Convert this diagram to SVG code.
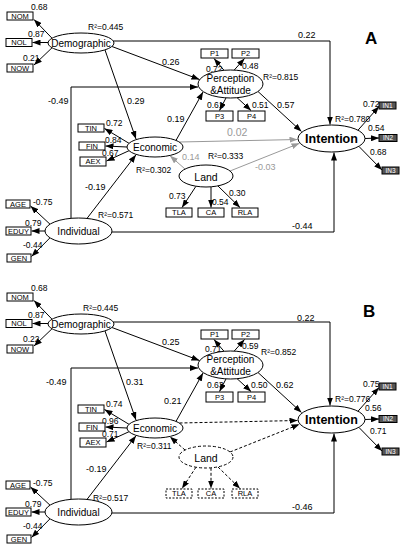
<svg xmlns="http://www.w3.org/2000/svg" width="403" height="550" viewBox="0 0 403 550">
<defs>
<marker id="ah" viewBox="0 0 8 6" refX="8" refY="3" markerWidth="8" markerHeight="6" markerUnits="userSpaceOnUse" orient="auto"><path d="M0,0 L8,3 L0,6 z" fill="#000"/></marker>
<marker id="ahg" viewBox="0 0 8 6" refX="8" refY="3" markerWidth="8" markerHeight="6" markerUnits="userSpaceOnUse" orient="auto"><path d="M0,0 L8,3 L0,6 z" fill="#999"/></marker>
<style>
text { font-family: "Liberation Sans", Arial, sans-serif; fill: #000; }
.ell { fill: #fff; stroke: #000; stroke-width: 1; }
.dell { fill: #fff; stroke: #000; stroke-width: 1; stroke-dasharray: 3 2; }
.box { fill: #fff; stroke: #000; stroke-width: 1; }
.dbox { fill: #fff; stroke: #000; stroke-width: 1; stroke-dasharray: 2 1.5; }
.ibox { fill: #555; stroke: #000; stroke-width: 1; }
.ln { stroke: #000; stroke-width: 1; fill: none; marker-end: url(#ah); }
.ln0 { stroke: #000; stroke-width: 1; fill: none; }
.gl { stroke: #999; stroke-width: 1; fill: none; marker-end: url(#ahg); }
.dl { stroke: #000; stroke-width: 1; fill: none; stroke-dasharray: 3 2; marker-end: url(#ah); }
.nt { font-size: 10px; text-anchor: middle; }
.it { font-size: 12.5px; font-weight: bold; text-anchor: middle; }
.bt { font-size: 7.5px; text-anchor: middle; }
.wt { font-size: 6.5px; text-anchor: middle; fill: #fff; }
.lb { font-size: 8.5px; }
.pc { font-size: 9px; }
.gt { font-size: 9px; fill: #999; }
.big { font-size: 17px; font-weight: bold; }
</style>
</defs>
<rect width="403" height="550" fill="#fff"/>

<g id="panelA">
<text class="big" x="365" y="44">A</text>
<g id="A-connectors">
<path class="ln" d="M113.3,41 H330 V124.5"/>
<path class="ln" d="M112,46.5 L199.5,79.5"/>
<path class="ln" d="M105,50 L136,139"/>
<path class="ln" d="M71,218.3 V87 H198"/>
<path class="ln" d="M176,140.4 L203,92"/>
<path class="ln" d="M258,91.5 L301.5,131.5"/>
<path class="ln" d="M112,232 H334 V152.5"/>
<path class="ln" d="M87,218.4 L136,154.8"/>
<path class="gl" d="M179.5,142 L297.5,139.5"/>
<path class="gl" d="M185,169 L170,155.8"/>
<path class="gl" d="M230,171 L299.5,143.3"/>
<path class="ln" d="M52,38.2 L34,19.5"/>
<path class="ln" d="M48,42.5 L32.5,42.5"/>
<path class="ln" d="M52,47.8 L34,65"/>
<path class="ln" d="M224,70.3 L214,58.5"/>
<path class="ln" d="M234,70.3 L244.5,58.5"/>
<path class="ln" d="M226,97.9 L219.5,110.5"/>
<path class="ln" d="M237,97.6 L251,110.5"/>
<path class="ln" d="M358,130.2 L379,106.5"/>
<path class="ln" d="M365,138.5 L379,138"/>
<path class="ln" d="M359,146.5 L382,170"/>
<path class="ln" d="M129,143.3 L104.5,128.5"/>
<path class="ln" d="M127,147 L105.5,146"/>
<path class="ln" d="M129,150.7 L106.5,161"/>
<path class="ln" d="M196,186.2 L182,207.5"/>
<path class="ln" d="M211,186.8 L211,207.5"/>
<path class="ln" d="M218,186 L240,207.5"/>
<path class="ln" d="M50,224.2 L30.5,206"/>
<path class="ln" d="M45,231 L31.5,231"/>
<path class="ln" d="M50,237.8 L31.5,256.5"/>
</g>
<g id="A-labels">
<text class="lb" x="31" y="10">0.68</text>
<text class="lb" x="28" y="37">0.87</text>
<text class="lb" x="23" y="61">0.21</text>
<text class="pc" x="162" y="65">0.26</text>
<text class="pc" x="127" y="104">0.29</text>
<text class="pc" x="48" y="104">-0.49</text>
<text class="pc" x="298" y="38">0.22</text>
<text class="lb" x="206" y="72">0.72</text>
<text class="lb" x="242" y="69">0.48</text>
<text class="lb" x="207" y="108">0.61</text>
<text class="lb" x="252" y="108">0.51</text>
<text class="pc" x="277" y="108">0.57</text>
<text class="lb" x="363" y="107">0.72</text>
<text class="lb" x="368" y="131">0.54</text>
<text class="lb" x="370" y="155">0.68</text>
<text class="lb" x="106" y="126">0.72</text>
<text class="lb" x="105" y="143">0.84</text>
<text class="lb" x="102" y="156">0.67</text>
<text class="pc" x="167" y="122">0.19</text>
<text class="gt" x="227" y="136" style="font-size:10.5px">0.02</text>
<text class="gt" x="182" y="160">0.14</text>
<text class="gt" x="255" y="170">-0.03</text>
<text class="lb" x="169" y="199">0.73</text>
<text class="lb" x="212" y="205">0.54</text>
<text class="lb" x="229" y="196">0.30</text>
<text class="pc" x="85" y="190">-0.19</text>
<text class="lb" x="33" y="205">-0.75</text>
<text class="lb" x="25" y="226">0.79</text>
<text class="lb" x="23" y="248">-0.44</text>
<text class="pc" x="292" y="229">-0.44</text>
</g>
<g id="A-demographic"><ellipse class="ell" cx="81" cy="43" rx="33" ry="10"/><text class="nt" x="81" y="46.5">Demographic</text><text class="lb" x="88" y="30">R²=0.445</text></g>
<g id="A-NOM"><rect class="box" x="7" y="12" width="26" height="8"/><text class="bt" x="20" y="18.8">NOM</text></g>
<g id="A-NOL"><rect class="box" x="6" y="38.5" width="26" height="8"/><text class="bt" x="19" y="45.3">NOL</text></g>
<g id="A-NOW"><rect class="box" x="7" y="64" width="26" height="8"/><text class="bt" x="20" y="70.8">NOW</text></g>
<g id="A-perception"><ellipse class="ell" cx="230.5" cy="84" rx="32.5" ry="14"/><text class="nt" x="230.5" y="82">Perception</text><text class="nt" x="230.5" y="94">&amp;Attitude</text><text class="lb" x="263" y="80">R²=0.815</text></g>
<g id="A-P1"><rect class="box" x="201" y="49" width="27" height="9"/><text class="bt" x="214.5" y="56.3">P1</text></g>
<g id="A-P2"><rect class="box" x="232" y="49" width="27" height="9"/><text class="bt" x="245.5" y="56.3">P2</text></g>
<g id="A-P3"><rect class="box" x="206" y="111" width="27" height="10"/><text class="bt" x="219.5" y="119">P3</text></g>
<g id="A-P4"><rect class="box" x="238" y="111" width="27" height="10"/><text class="bt" x="251.5" y="119">P4</text></g>
<g id="A-intention"><ellipse class="ell" cx="331.5" cy="138.5" rx="33.5" ry="13.5"/><text class="it" x="331.5" y="143">Intention</text><text class="lb" x="335" y="122">R²=0.780</text></g>
<g id="A-IN1"><rect class="ibox" x="379" y="102" width="17" height="7"/><text class="wt" x="387.5" y="107.8">IN1</text></g>
<g id="A-IN2"><rect class="ibox" x="379" y="134.5" width="18" height="7"/><text class="wt" x="388" y="140.3">IN2</text></g>
<g id="A-IN3"><rect class="ibox" x="382" y="167" width="17" height="7"/><text class="wt" x="390.5" y="172.8">IN3</text></g>
<g id="A-economic"><ellipse class="ell" cx="155" cy="147" rx="28" ry="10"/><text class="nt" x="155" y="150.5">Economic</text><text class="lb" x="136" y="173">R²=0.302</text></g>
<g id="A-TIN"><rect class="box" x="78" y="124" width="26" height="8"/><text class="bt" x="91" y="130.8">TIN</text></g>
<g id="A-FIN"><rect class="box" x="79" y="142" width="26" height="8"/><text class="bt" x="92" y="148.8">FIN</text></g>
<g id="A-AEX"><rect class="box" x="80" y="157" width="26" height="9"/><text class="bt" x="93" y="164.3">AEX</text></g>
<g id="A-land"><ellipse class="ell" cx="206" cy="176" rx="27" ry="11"/><text class="nt" x="206" y="180.5" style="font-size:10.5px">Land</text><text class="lb" x="208" y="159">R²=0.333</text></g>
<g id="A-TLA"><rect class="box" x="166" y="208" width="26" height="9"/><text class="bt" x="179" y="215.3">TLA</text></g>
<g id="A-CA"><rect class="box" x="198" y="208" width="26" height="9"/><text class="bt" x="211" y="215.3">CA</text></g>
<g id="A-RLA"><rect class="box" x="232" y="208" width="26" height="9"/><text class="bt" x="245" y="215.3">RLA</text></g>
<g id="A-individual"><ellipse class="ell" cx="78.5" cy="231" rx="33.5" ry="13"/><text class="nt" x="78.5" y="234.5">Individual</text><text class="lb" x="98" y="218">R²=0.571</text></g>
<g id="A-AGE"><rect class="box" x="6" y="200" width="24" height="8"/><text class="bt" x="18" y="206.8">AGE</text></g>
<g id="A-EDUY"><rect class="box" x="6" y="227" width="25" height="8"/><text class="bt" x="18.5" y="233.8">EDUY</text></g>
<g id="A-GEN"><rect class="box" x="7" y="254" width="24" height="8"/><text class="bt" x="19" y="260.8">GEN</text></g>
</g>

<g id="panelB" transform="translate(0,281)">
<text class="big" x="363" y="36">B</text>
<g id="B-connectors">
<path class="ln" d="M113.3,41 H330 V124.5"/>
<path class="ln" d="M112,46.5 L199.5,79.5"/>
<path class="ln" d="M105,50 L136,139"/>
<path class="ln" d="M71,218.3 V87 H198"/>
<path class="ln" d="M176,140.4 L203,92"/>
<path class="ln" d="M258,91.5 L301.5,131.5"/>
<path class="ln" d="M112,232 H334 V152.5"/>
<path class="ln" d="M87,218.4 L136,154.8"/>
<path class="dl" d="M179.5,142 L297.5,139.5"/>
<path class="dl" d="M185,169 L170,155.8"/>
<path class="dl" d="M230,171 L299.5,143.3"/>
<path class="ln" d="M52,38.2 L34,19.5"/>
<path class="ln" d="M48,42.5 L32.5,42.5"/>
<path class="ln" d="M52,47.8 L34,65"/>
<path class="ln" d="M224,70.3 L214,58.5"/>
<path class="ln" d="M234,70.3 L244.5,58.5"/>
<path class="ln" d="M226,97.9 L219.5,110.5"/>
<path class="ln" d="M237,97.6 L251,110.5"/>
<path class="ln" d="M358,130.2 L379,106.5"/>
<path class="ln" d="M365,138.5 L379,138"/>
<path class="ln" d="M359,146.5 L382,170"/>
<path class="ln" d="M129,143.3 L104.5,128.5"/>
<path class="ln" d="M127,147 L105.5,146"/>
<path class="ln" d="M129,150.7 L106.5,161"/>
<path class="dl" d="M196,186.2 L182,207.5"/>
<path class="dl" d="M211,186.8 L211,207.5"/>
<path class="dl" d="M218,186 L240,207.5"/>
<path class="ln" d="M50,224.2 L30.5,206"/>
<path class="ln" d="M45,231 L31.5,231"/>
<path class="ln" d="M50,237.8 L31.5,256.5"/>
</g>
<g id="B-labels">
<text class="lb" x="31" y="10">0.68</text>
<text class="lb" x="28" y="37">0.87</text>
<text class="lb" x="23" y="61">0.22</text>
<text class="pc" x="162" y="64">0.25</text>
<text class="pc" x="126" y="104">0.31</text>
<text class="pc" x="46" y="104">-0.49</text>
<text class="pc" x="297" y="40">0.22</text>
<text class="lb" x="205" y="71">0.71</text>
<text class="lb" x="242" y="68">0.59</text>
<text class="lb" x="207" y="107">0.63</text>
<text class="lb" x="251" y="107">0.50</text>
<text class="pc" x="276" y="107">0.62</text>
<text class="lb" x="363" y="106">0.75</text>
<text class="lb" x="365" y="130">0.56</text>
<text class="lb" x="370" y="153">0.71</text>
<text class="lb" x="106" y="126">0.74</text>
<text class="lb" x="102" y="143">0.96</text>
<text class="lb" x="102" y="156">0.71</text>
<text class="pc" x="164" y="123">0.21</text>
<text class="pc" x="86" y="191">-0.19</text>
<text class="lb" x="33" y="205">-0.75</text>
<text class="lb" x="25" y="226">0.79</text>
<text class="lb" x="23" y="248">-0.44</text>
<text class="pc" x="292" y="229">-0.46</text>
</g>
<g id="B-demographic"><ellipse class="ell" cx="81" cy="43" rx="33" ry="10"/><text class="nt" x="81" y="46.5">Demographic</text><text class="lb" x="83" y="30">R²=0.445</text></g>
<g id="B-NOM"><rect class="box" x="7" y="12" width="26" height="8"/><text class="bt" x="20" y="18.8">NOM</text></g>
<g id="B-NOL"><rect class="box" x="6" y="38.5" width="26" height="8"/><text class="bt" x="19" y="45.3">NOL</text></g>
<g id="B-NOW"><rect class="box" x="7" y="64" width="26" height="8"/><text class="bt" x="20" y="70.8">NOW</text></g>
<g id="B-perception"><ellipse class="ell" cx="230.5" cy="84" rx="32.5" ry="14"/><text class="nt" x="230.5" y="82">Perception</text><text class="nt" x="230.5" y="94">&amp;Attitude</text><text class="lb" x="261" y="74">R²=0.852</text></g>
<g id="B-P1"><rect class="box" x="201" y="49" width="27" height="9"/><text class="bt" x="214.5" y="56.3">P1</text></g>
<g id="B-P2"><rect class="box" x="232" y="49" width="27" height="9"/><text class="bt" x="245.5" y="56.3">P2</text></g>
<g id="B-P3"><rect class="box" x="206" y="111" width="27" height="10"/><text class="bt" x="219.5" y="119">P3</text></g>
<g id="B-P4"><rect class="box" x="238" y="111" width="27" height="10"/><text class="bt" x="251.5" y="119">P4</text></g>
<g id="B-intention"><ellipse class="ell" cx="331.5" cy="138.5" rx="33.5" ry="13.5"/><text class="it" x="331.5" y="143">Intention</text><text class="lb" x="335" y="121">R²=0.776</text></g>
<g id="B-IN1"><rect class="ibox" x="379" y="102" width="17" height="7"/><text class="wt" x="387.5" y="107.8">IN1</text></g>
<g id="B-IN2"><rect class="ibox" x="379" y="134.5" width="18" height="7"/><text class="wt" x="388" y="140.3">IN2</text></g>
<g id="B-IN3"><rect class="ibox" x="382" y="167" width="17" height="7"/><text class="wt" x="390.5" y="172.8">IN3</text></g>
<g id="B-economic"><ellipse class="ell" cx="155" cy="147" rx="28" ry="10"/><text class="nt" x="155" y="150.5">Economic</text><text class="lb" x="137" y="168">R²=0.311</text></g>
<g id="B-TIN"><rect class="box" x="78" y="124" width="26" height="8"/><text class="bt" x="91" y="130.8">TIN</text></g>
<g id="B-FIN"><rect class="box" x="79" y="142" width="26" height="8"/><text class="bt" x="92" y="148.8">FIN</text></g>
<g id="B-AEX"><rect class="box" x="80" y="157" width="26" height="9"/><text class="bt" x="93" y="164.3">AEX</text></g>
<g id="B-land"><ellipse class="dell" cx="206" cy="176" rx="27" ry="11"/><text class="nt" x="206" y="180.5" style="font-size:10.5px">Land</text></g>
<g id="B-TLA"><rect class="dbox" x="166" y="208" width="26" height="9"/><text class="bt" x="179" y="215.3">TLA</text></g>
<g id="B-CA"><rect class="dbox" x="198" y="208" width="26" height="9"/><text class="bt" x="211" y="215.3">CA</text></g>
<g id="B-RLA"><rect class="dbox" x="232" y="208" width="26" height="9"/><text class="bt" x="245" y="215.3">RLA</text></g>
<g id="B-individual"><ellipse class="ell" cx="78.5" cy="231" rx="33.5" ry="13"/><text class="nt" x="78.5" y="234.5">Individual</text><text class="lb" x="93" y="220">R²=0.517</text></g>
<g id="B-AGE"><rect class="box" x="6" y="200" width="24" height="8"/><text class="bt" x="18" y="206.8">AGE</text></g>
<g id="B-EDUY"><rect class="box" x="6" y="227" width="25" height="8"/><text class="bt" x="18.5" y="233.8">EDUY</text></g>
<g id="B-GEN"><rect class="box" x="7" y="254" width="24" height="8"/><text class="bt" x="19" y="260.8">GEN</text></g>
</g>
</svg>
